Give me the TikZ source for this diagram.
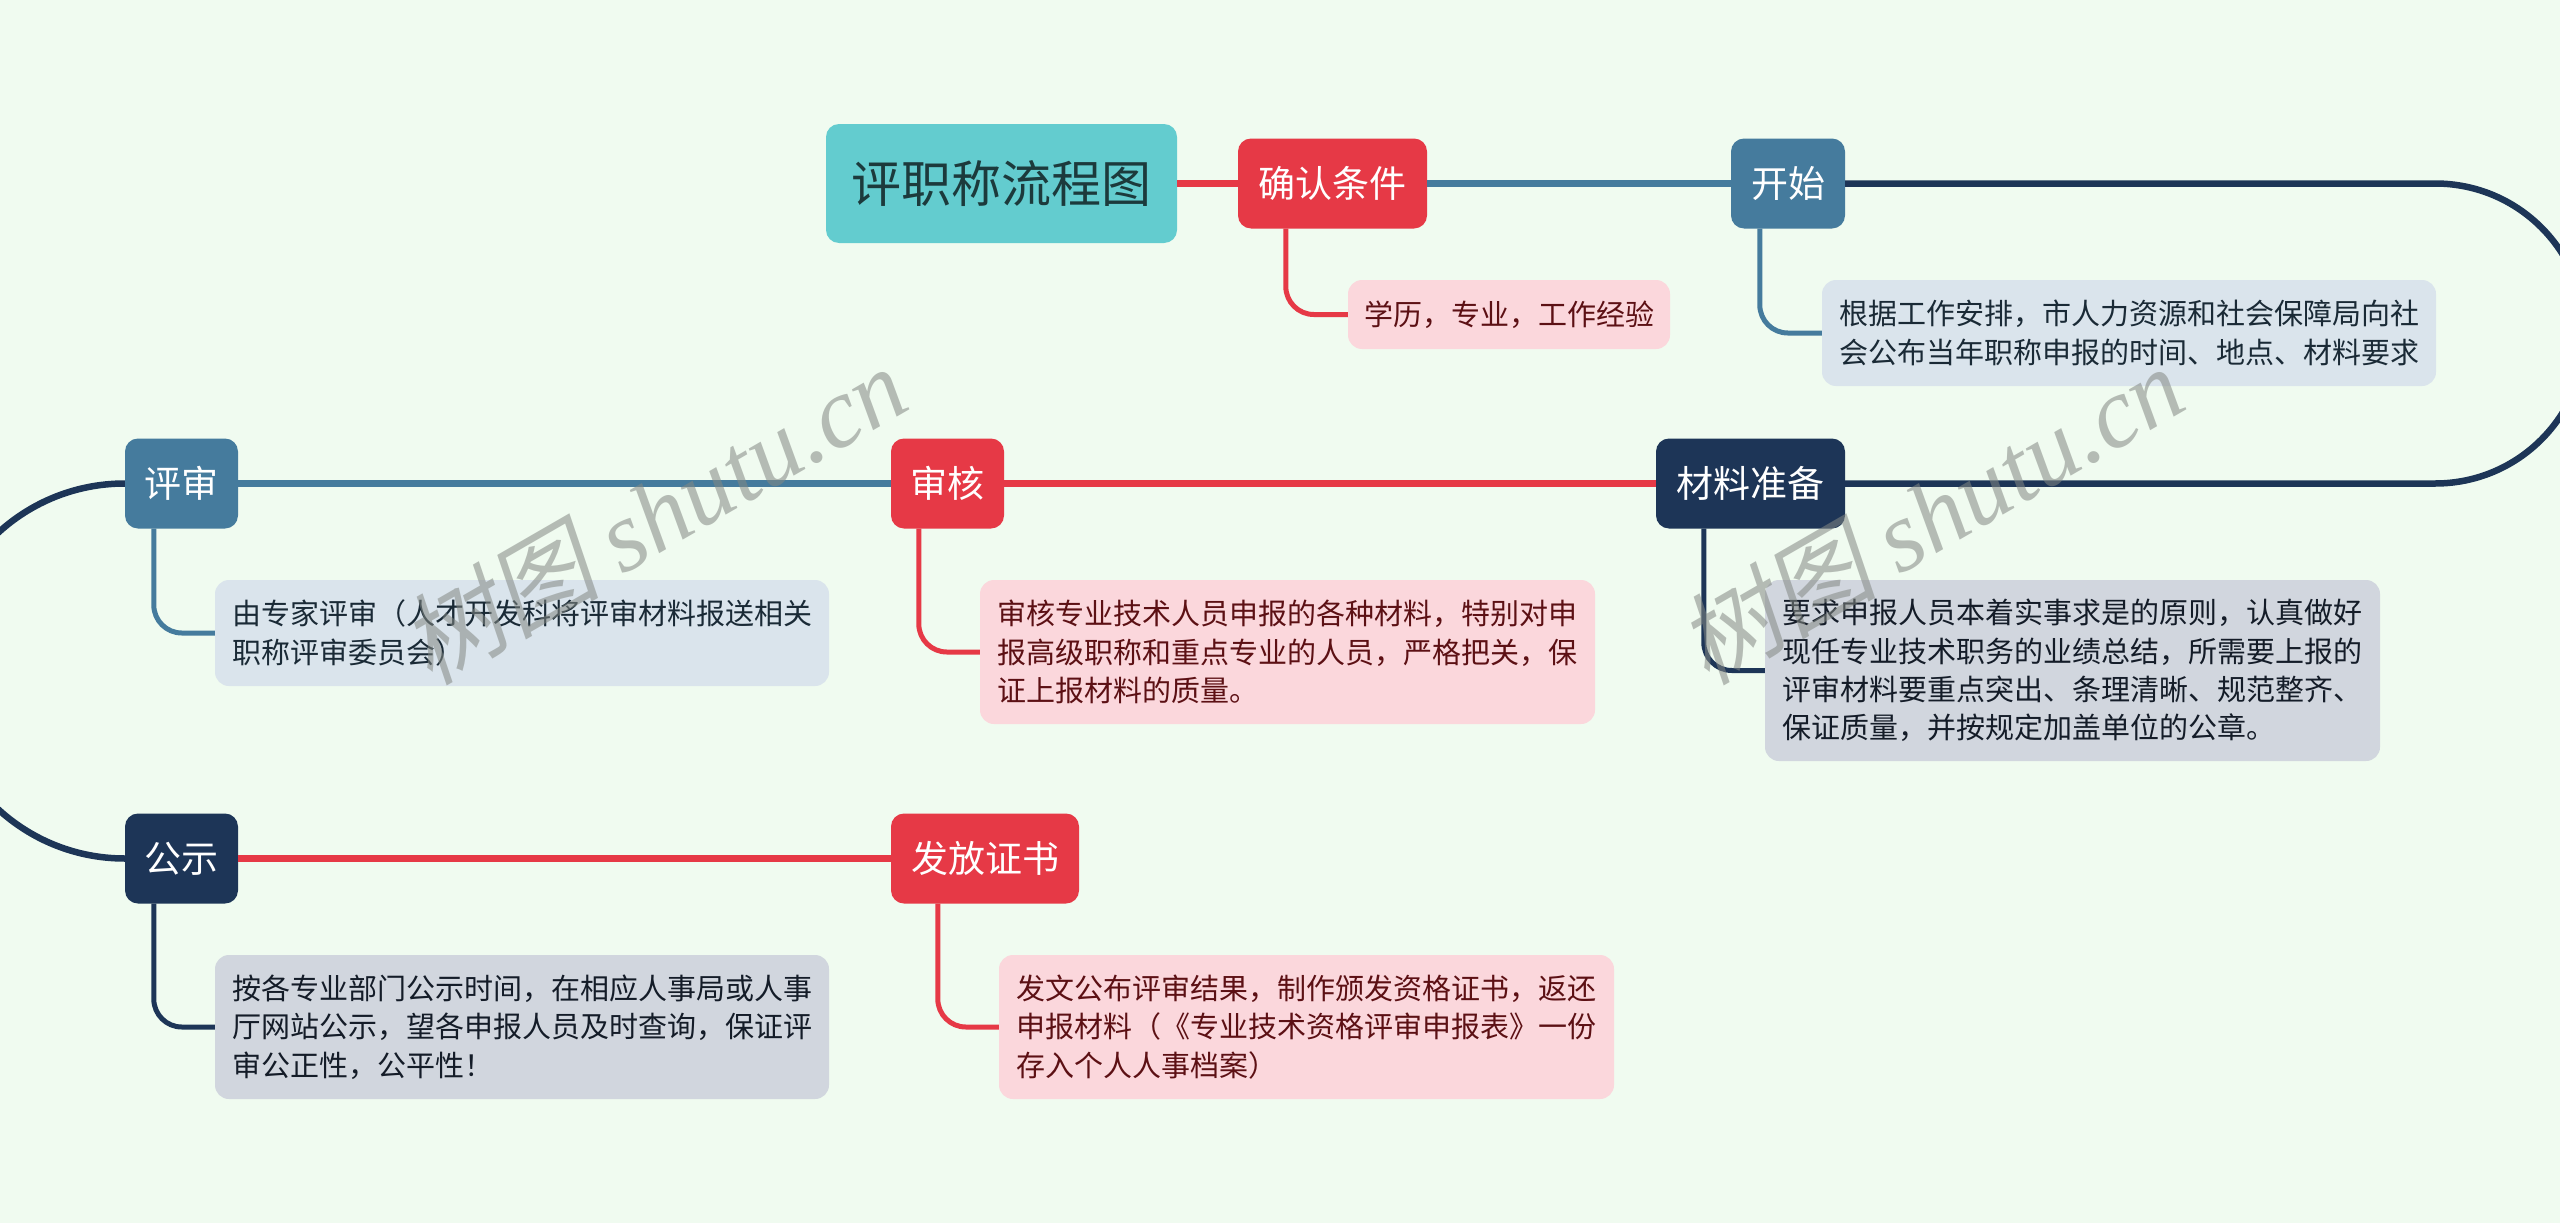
\documentclass[tikz,border=0pt]{standalone}
\usepackage{fontspec}
\setmainfont{Noto Sans CJK SC}
\newfontfamily\markcjk[FakeSlant=0.2]{Noto Sans CJK SC}
\newfontfamily\marklatin{Liberation Serif}
\definecolor{pagebg}{HTML}{F0FBF0}
\definecolor{titlefill}{HTML}{63CCCF}
\definecolor{titleink}{HTML}{1C3A3C}
\definecolor{redmain}{HTML}{E63946}
\definecolor{bluemain}{HTML}{457B9D}
\definecolor{navymain}{HTML}{1D3557}
\definecolor{rednote}{HTML}{FBD7DC}
\definecolor{bluenote}{HTML}{DAE4EC}
\definecolor{navynote}{HTML}{D1D6DE}
\definecolor{redink}{HTML}{5C1014}
\definecolor{blueink}{HTML}{1A2A36}
\definecolor{navyink}{HTML}{141C28}
\tikzset{
  stepnode/.style={rounded corners=13pt, inner sep=0pt, text=white, font=\fontsize{37}{44}\selectfont},
  titlenode/.style={rounded corners=13pt, inner sep=0pt, fill=titlefill, text=titleink, font=\fontsize{50}{60}\selectfont},
  notenode/.style={rounded corners=14pt, inner sep=0pt, align=left, font=\fontsize{29}{38.4}\selectfont},
  mainlink/.style={line width=7pt},
  arclink/.style={line width=6.5pt, navymain},
  notelink/.style={line width=5pt, rounded corners=28pt},
  markword/.style={inner sep=0pt, rotate=30, text=black!45!pagebg!80!gray, opacity=0.55}
}
\begin{document}
\begin{tikzpicture}[x=1pt, y=-1pt]
  \useasboundingbox (0, 0) rectangle (2560, 1223);
  \fill[pagebg] (0, 0) rectangle (2560, 1223);

  \path (1001.5, 183.5) node[titlenode, minimum width=351pt, minimum height=119pt] (title) {评职称流程图};
  \path (1332.5, 183.5) node[stepnode, fill=redmain, minimum width=189pt, minimum height=90pt] (cond) {确认条件};
  \path (1788, 183.5) node[stepnode, fill=bluemain, minimum width=114pt, minimum height=90pt] (start) {开始};
  \path (1750.5, 483.5) node[stepnode, fill=navymain, minimum width=189pt, minimum height=90pt] (ready) {材料准备};
  \path (947.5, 483.5) node[stepnode, fill=redmain, minimum width=113pt, minimum height=90pt] (audit) {审核};
  \path (181.5, 483.5) node[stepnode, fill=bluemain, minimum width=113pt, minimum height=90pt] (review) {评审};
  \path (181.5, 858.5) node[stepnode, fill=navymain, minimum width=113pt, minimum height=90pt] (notice) {公示};
  \path (985, 858.5) node[stepnode, fill=redmain, minimum width=188pt, minimum height=90pt] (issue) {发放证书};

  \draw[mainlink, redmain] (title.east) -- (cond.west);
  \draw[mainlink, bluemain] (cond.east) -- (start.west);
  \draw[arclink] (start.east) -- ++(590, 0) arc[start angle=90, end angle=-90, radius=150pt] -- (ready.east);
  \draw[mainlink, redmain] (ready.west) -- (audit.east);
  \draw[mainlink, bluemain] (audit.west) -- (review.east);
  \draw[arclink] (review.west) arc[start angle=90, end angle=270, radius=187.5pt] -- (notice.west);
  \draw[mainlink, redmain] (notice.east) -- (issue.west);

  \path (1509, 314.5) node[notenode, fill=rednote, text=redink, minimum width=322pt, minimum height=69pt] (condnote) {学历，专业，工作经验};
  \path (2129, 333) node[notenode, fill=bluenote, text=blueink, minimum width=614pt, minimum height=106pt] (startnote) {根据工作安排，市人力资源和社会保障局向社\\会公布当年职称申报的时间、地点、材料要求};
  \path (2072.5, 670.5) node[notenode, fill=navynote, text=navyink, minimum width=615pt, minimum height=181pt] (readynote) {要求申报人员本着实事求是的原则，认真做好\\现任专业技术职务的业绩总结，所需要上报的\\评审材料要重点突出、条理清晰、规范整齐、\\保证质量，并按规定加盖单位的公章。};
  \path (1287.5, 652) node[notenode, fill=rednote, text=redink, minimum width=615pt, minimum height=144pt] (auditnote) {审核专业技术人员申报的各种材料，特别对申\\报高级职称和重点专业的人员，严格把关，保\\证上报材料的质量。};
  \path (522, 633) node[notenode, fill=bluenote, text=blueink, minimum width=614pt, minimum height=106pt] (reviewnote) {由专家评审（人才开发科将评审材料报送相关\\职称评审委员会）};
  \path (522, 1027) node[notenode, fill=navynote, text=navyink, minimum width=614pt, minimum height=144pt] (noticenote) {按各专业部门公示时间，在相应人事局或人事\\厅网站公示，望各申报人员及时查询，保证评\\审公正性，公平性！};
  \path (1306.5, 1027) node[notenode, fill=rednote, text=redink, minimum width=615pt, minimum height=144pt] (issuenote) {发文公布评审结果，制作颁发资格证书，返还\\申报材料（《专业技术资格评审申报表》一份\\存入个人人事档案）};

  \draw[notelink, redmain] ([xshift=48pt]cond.south west) |- (condnote.west);
  \draw[notelink, bluemain] ([xshift=29pt]start.south west) |- (startnote.west);
  \draw[notelink, navymain] ([xshift=48pt]ready.south west) |- (readynote.west);
  \draw[notelink, redmain] ([xshift=28pt]audit.south west) |- (auditnote.west);
  \draw[notelink, bluemain] ([xshift=29pt]review.south west) |- (reviewnote.west);
  \draw[notelink, navymain] ([xshift=29pt]notice.south west) |- (noticenote.west);
  \draw[notelink, redmain] ([xshift=47pt]issue.south west) |- (issuenote.west);

  \path (653, 514) node[markword] (markleft) {\fontsize{100}{110}\selectfont\markcjk 树图 \marklatin\itshape shutu.cn};
  \path (1930, 514) node[markword] (markright) {\fontsize{100}{110}\selectfont\markcjk 树图 \marklatin\itshape shutu.cn};
\end{tikzpicture}
\end{document}
